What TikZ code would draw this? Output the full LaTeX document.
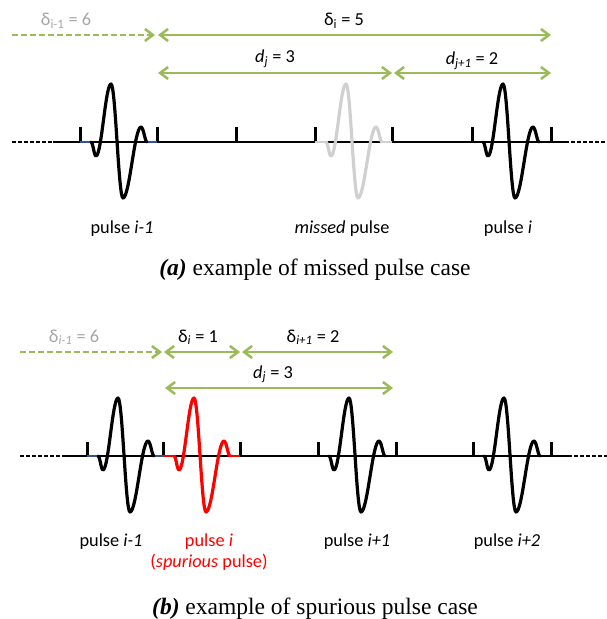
\documentclass[tikz,border=0pt]{standalone}
\usepackage{fontspec}
\setmainfont{Carlito}
\newfontfamily\capfont{Liberation Serif}
\usetikzlibrary{arrows.meta}
\definecolor{ogreen}{HTML}{9BBB59}
\definecolor{lgray}{HTML}{A6A6A6}
\definecolor{pgray}{HTML}{D0D0D0}
\definecolor{flatblue}{HTML}{2F5597}
\tikzset{
 baseln/.style={line width=1.5bp, black},
 basedash/.style={baseln, dash pattern=on 4bp off 2bp},
 tickln/.style={line width=3bp, black},
 garrow/.style={ogreen, line width=2.5bp, {Straight Barb[length=8bp,width=12bp]}-{Straight Barb[length=8bp,width=12bp]}},
 garrowr/.style={ogreen, line width=2.5bp, -{Straight Barb[length=8bp,width=12bp]}},
 gdash/.style={garrowr, dash pattern=on 6bp off 3bp},
 lbl/.style={font=\fontsize{18.3bp}{20bp}\selectfont, anchor=base, inner sep=0pt},
 captext/.style={font=\capfont\fontsize{23.5bp}{26bp}\selectfont, anchor=base, inner sep=0pt},
 pulseline/.style={line width=3.2bp, line join=round, line cap=round},
}
\newcommand{\pulseshape}[4]{%
 \begin{scope}[shift={(#1,#2)}]
  \draw[#4, line width=2.5bp] (0,0) -- (11,0) (67,0) -- (77,0);
  \draw[#3, pulseline] (11,0) .. controls (13,0) and (14,14) .. (16,14)
     .. controls (21.5,14) and (25.5,-58) .. (31,-58)
     .. controls (35.5,-58) and (38.5,56) .. (43,56)
     .. controls (49.5,56) and (54.5,-15) .. (61,-15)
     .. controls (63.5,-15) and (65,0) .. (67,0);
 \end{scope}}
\begin{document}
\begin{tikzpicture}[x=1bp,y=-1bp]
\useasboundingbox (0,0) rectangle (607,619);
% ---------------- panel (a) ----------------
\coordinate (aL) at (12,142);
\coordinate (aS) at (53,142);
\coordinate (aE) at (565,142);
\coordinate (aR) at (607,142);
\draw[basedash] (aL) -- (aS);
\draw[baseln] (aS) -- (aE);
\draw[basedash] (aE) -- (aR);
\foreach \x/\n in {80/1,157/2,236/3,315/4,392/5,472/6,551/7}{
  \coordinate (at\n) at (\x,142);
  \draw[tickln] (\x,142.5) -- (\x,127);
}
\pulseshape{80}{142}{black}{flatblue}
\pulseshape{315}{142}{pgray}{pgray}
\pulseshape{472}{142}{black}{black}
% arrows (a)
\coordinate (a1s) at (12,35);  \coordinate (a1e) at (155,35);
\coordinate (a2s) at (158,35); \coordinate (a2e) at (551,35);
\coordinate (a3s) at (158,73); \coordinate (a3e) at (392,73);
\coordinate (a4s) at (394,73); \coordinate (a4e) at (551,73);
\draw[gdash] (a1s) -- (a1e);
\draw[garrow] (a2s) -- (a2e);
\draw[garrow] (a3s) -- (a3e);
\draw[garrow] (a4s) -- (a4e);
\node[lbl, text=lgray] (la1) at (66,26) {δ\textsubscript{i-1} = 6};
\node[lbl] (la2) at (344,26) {δ\textsubscript{i} = 5};
\node[lbl] (la3) at (275,63) {\textit{d\textsubscript{j}} = 3};
\node[lbl] (la4) at (472,65) {\textit{d\textsubscript{j+1}} = 2};
\node[lbl] (pa1) at (122,233) {pulse \textit{i-1}};
\node[lbl] (pa2) at (342,233) {\textit{missed} pulse};
\node[lbl] (pa3) at (508,233) {pulse \textit{i}};
\node[captext] (capa) at (315,275) {\textbf{\textit{(a)}} example of missed pulse case};
% ---------------- panel (b) ----------------
\coordinate (bL) at (20,456);
\coordinate (bS) at (65,456);
\coordinate (bE) at (568,456);
\coordinate (bR) at (607,456);
\draw[basedash] (bL) -- (bS);
\draw[baseln] (bS) -- (bE);
\draw[basedash] (bE) -- (bR);
\foreach \x/\n in {87/1,163/2,240/3,318/4,396/5,473/6,551/7}{
  \coordinate (bt\n) at (\x,456);
  \draw[tickln] (\x,456.5) -- (\x,442);
}
\pulseshape{87}{456}{black}{flatblue}
\pulseshape{163}{456}{red}{red}
\pulseshape{318}{456}{black}{black}
\pulseshape{473}{456}{black}{black}
% arrows (b)
\coordinate (b1s) at (20,352);  \coordinate (b1e) at (162,352);
\coordinate (b2s) at (164,352); \coordinate (b2e) at (240,352);
\coordinate (b3s) at (242,352); \coordinate (b3e) at (393,352);
\coordinate (b4s) at (165,388); \coordinate (b4e) at (393,388);
\draw[gdash] (b1s) -- (b1e);
\draw[garrow] (b2s) -- (b2e);
\draw[garrow] (b3s) -- (b3e);
\draw[garrow] (b4s) -- (b4e);
\node[lbl, text=lgray] (lb1) at (74,342) {δ\textsubscript{\textit{i-1}} = 6};
\node[lbl] (lb2) at (198,342) {δ\textsubscript{\textit{i}} = 1};
\node[lbl] (lb3) at (313,342) {δ\textsubscript{\textit{i+1}} = 2};
\node[lbl] (lb4) at (273,378) {\textit{d\textsubscript{j}} = 3};
\node[lbl] (pb1) at (111,546) {pulse \textit{i-1}};
\node[lbl, text=red] (pb2) at (209,546) {pulse \textit{i}};
\node[lbl, text=red] (pb2b) at (209,567) {(\textit{spurious} pulse)};
\node[lbl] (pb3) at (357,546) {pulse \textit{i+1}};
\node[lbl] (pb4) at (507,546) {pulse \textit{i+2}};
\node[captext] (capb) at (315,614) {\textbf{\textit{(b)}} example of spurious pulse case};
\end{tikzpicture}
\end{document}
